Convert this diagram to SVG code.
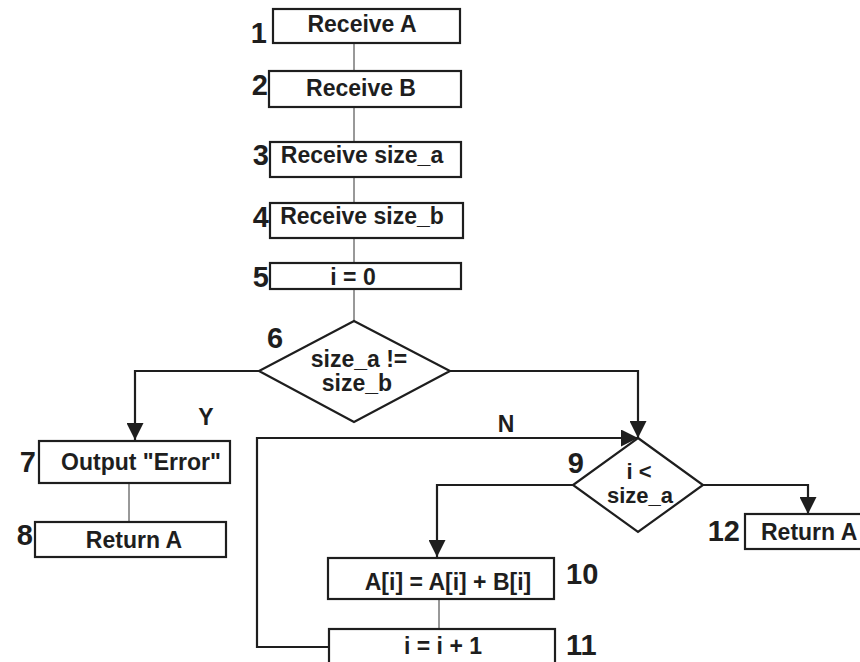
<svg xmlns="http://www.w3.org/2000/svg" width="860" height="662" viewBox="0 0 860 662">
  <style>
    .box { fill: #ffffff; stroke: #1e1e1e; stroke-width: 2.2; }
    .dec { fill: #ffffff; stroke: #1e1e1e; stroke-width: 2.2; }
    .txt { font-family: "Liberation Sans", Arial, sans-serif; font-weight: bold; font-size: 23px; fill: #1e1e1e; text-anchor: middle; }
    .txt.left { text-anchor: start; }
    .txt.small { font-size: 22px; }
    .num { font-family: "Liberation Sans", Arial, sans-serif; font-weight: bold; font-size: 29px; fill: #1e1e1e; text-anchor: start; }
    .num.end { text-anchor: end; }
    .thin { fill: none; stroke: #333333; stroke-width: 1; }
    .flow { fill: none; stroke: #1e1e1e; stroke-width: 2.2; }
  </style>
  <defs>
    <marker id="arrow" markerUnits="userSpaceOnUse" markerWidth="17" markerHeight="17" viewBox="0 0 17 17" refX="17" refY="8.5" orient="auto">
      <path d="M0,0 L17,8.5 L0,17 Z" fill="#1e1e1e"/>
    </marker>
  </defs>
  <rect width="860" height="662" fill="#ffffff"/>

  <g id="connectors">
    <line class="thin" x1="354" y1="43" x2="354" y2="71"/>
    <line class="thin" x1="354" y1="107" x2="354" y2="142"/>
    <line class="thin" x1="354" y1="177" x2="354" y2="203"/>
    <line class="thin" x1="354" y1="238" x2="354" y2="263"/>
    <line class="thin" x1="354" y1="289" x2="354" y2="321"/>
    <path class="flow" d="M259,371 H135 V440" marker-end="url(#arrow)"/>
    <path class="flow" d="M450,371 H638 V438" marker-end="url(#arrow)"/>
    <line class="thin" x1="129" y1="483" x2="129" y2="522"/>
    <path class="flow" d="M573,485 H437 V557" marker-end="url(#arrow)"/>
    <path class="flow" d="M703,485 H808 V514" marker-end="url(#arrow)"/>
    <line class="thin" x1="439" y1="599" x2="439" y2="629"/>
    <path class="flow" d="M329,647 H257 V438 H638" marker-end="url(#arrow)"/>
    <text class="txt" x="206" y="425">Y</text>
    <text class="txt" x="506" y="432">N</text>
  </g>

  <g id="n1">
    <rect class="box" x="273" y="9" width="187" height="34"/>
    <text class="txt" x="362" y="32">Receive A</text>
    <text class="num end" x="267" y="43">1</text>
  </g>
  <g id="n2">
    <rect class="box" x="269" y="71" width="192" height="36"/>
    <text class="txt" x="361" y="96">Receive B</text>
    <text class="num end" x="268" y="95">2</text>
  </g>
  <g id="n3">
    <rect class="box" x="270" y="142" width="191" height="35"/>
    <text class="txt" x="362" y="163">Receive size_a</text>
    <text class="num end" x="269" y="165">3</text>
  </g>
  <g id="n4">
    <rect class="box" x="270" y="203" width="193" height="35"/>
    <text class="txt" x="362" y="224">Receive size_b</text>
    <text class="num end" x="269" y="227">4</text>
  </g>
  <g id="n5">
    <rect class="box" x="270" y="263" width="191" height="26"/>
    <text class="txt" x="353" y="285">i = 0</text>
    <text class="num end" x="269" y="287">5</text>
  </g>
  <g id="n6">
    <polygon class="dec" points="354,321 450,371 354,422 259,371"/>
    <text class="txt" x="359" y="367">size_a !=</text>
    <text class="txt" x="357" y="391">size_b</text>
    <text class="num" x="267" y="348">6</text>
  </g>
  <g id="n7">
    <rect class="box" x="39" y="441" width="191" height="42"/>
    <text class="txt" x="141" y="470">Output "Error"</text>
    <text class="num end" x="36" y="472">7</text>
  </g>
  <g id="n8">
    <rect class="box" x="35" y="522" width="191" height="35"/>
    <text class="txt" x="134" y="548">Return A</text>
    <text class="num end" x="33" y="545">8</text>
  </g>
  <g id="n9">
    <polygon class="dec" points="638,438 703,485 638,532 573,485"/>
    <text class="txt small" x="639" y="479">i &lt;</text>
    <text class="txt small" x="640" y="503">size_a</text>
    <text class="num end" x="584" y="473">9</text>
  </g>
  <g id="n10">
    <rect class="box" x="328" y="558" width="226" height="41"/>
    <text class="txt" x="448" y="590">A[i] = A[i] + B[i]</text>
    <text class="num" x="566" y="584">10</text>
  </g>
  <g id="n11">
    <rect class="box" x="329" y="629" width="226" height="50"/>
    <text class="txt" x="443" y="654">i = i + 1</text>
    <text class="num" x="566" y="655">11</text>
  </g>
  <g id="n12">
    <rect class="box" x="745" y="514" width="130" height="35"/>
    <text class="txt left" x="761" y="540">Return A</text>
    <text class="num end" x="740" y="541">12</text>
  </g>
</svg>
